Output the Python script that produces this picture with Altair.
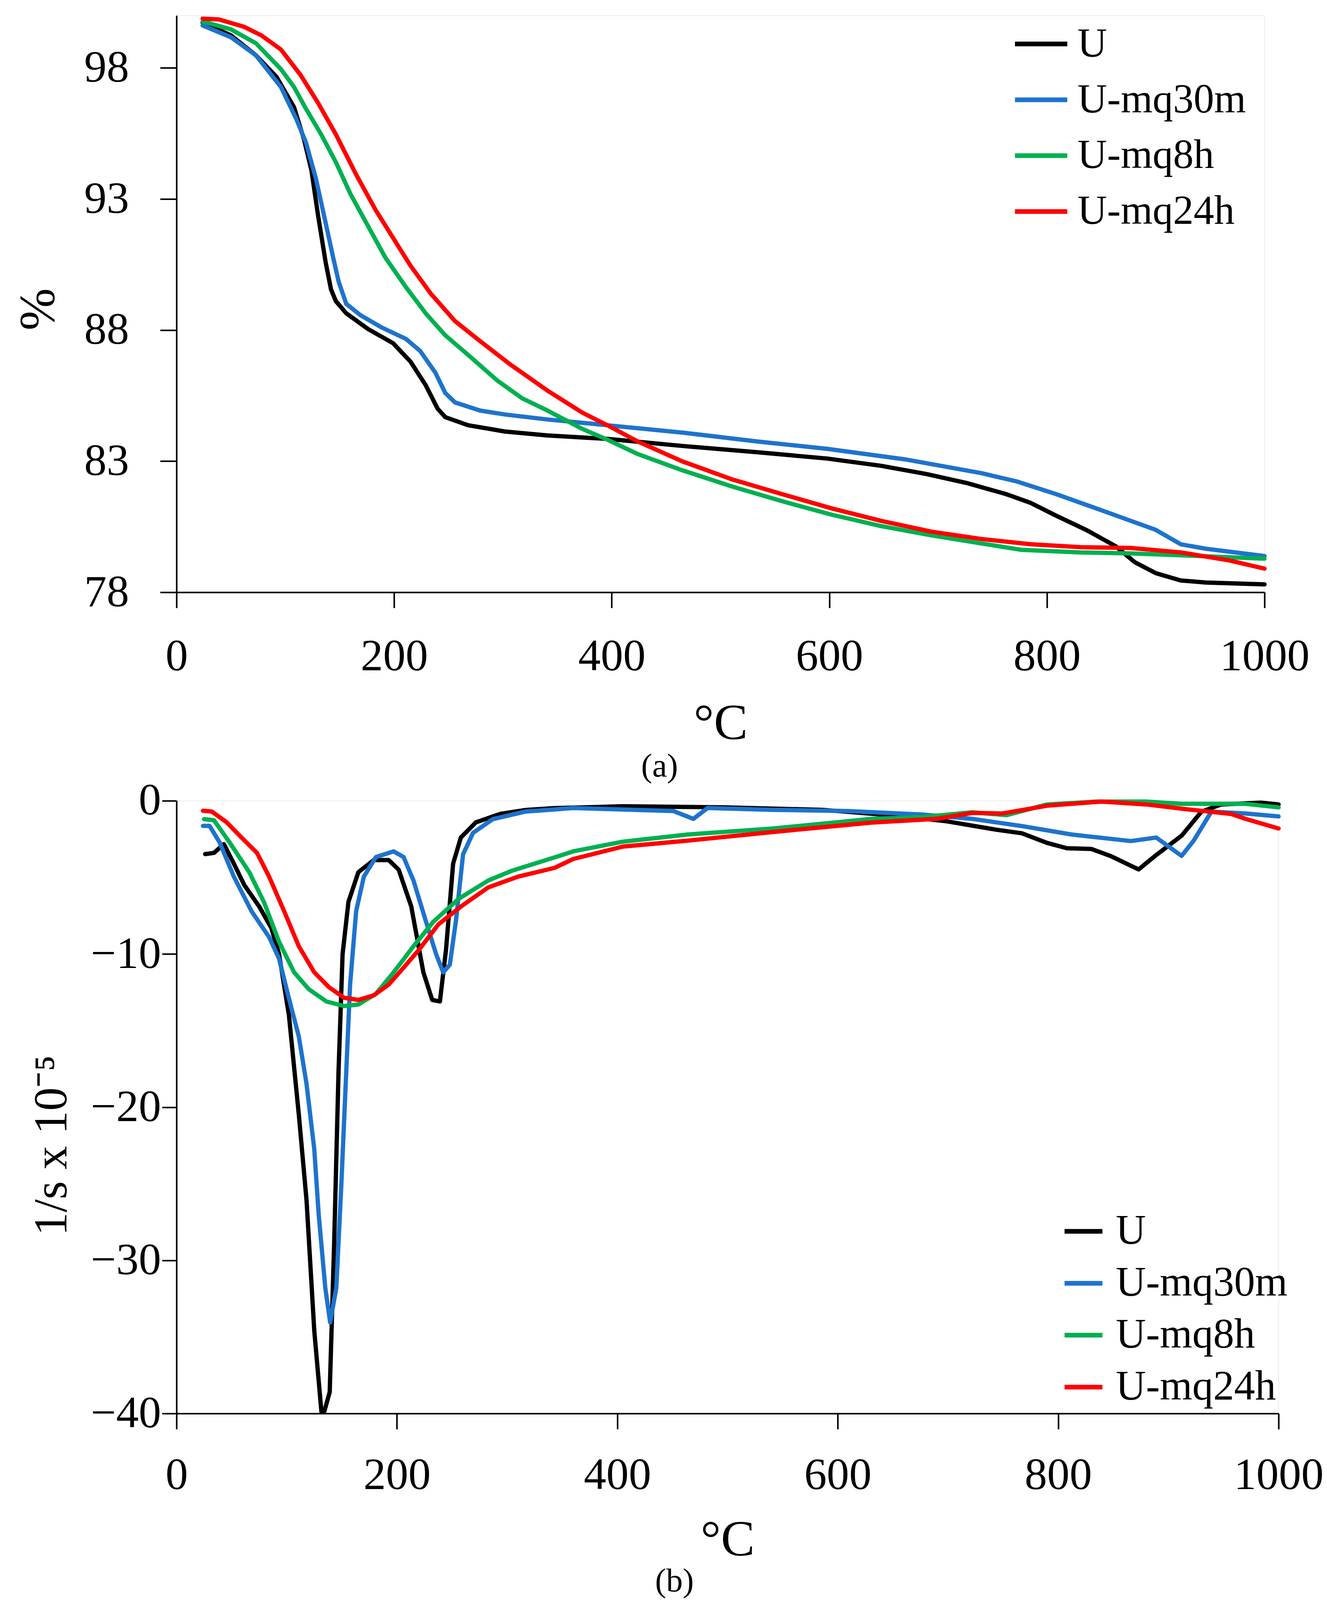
import altair as alt
import pandas as pd

FONT = "Liberation Serif"
SERIES = ["U", "U-mq30m", "U-mq8h", "U-mq24h"]
COLORS = ["#000000", "#1E73CC", "#00B050", "#FF0000"]
X_TICKS = [0, 200, 400, 600, 800, 1000]
YA_TICKS = [78, 83, 88, 93, 98]
YB_TICKS = [0, -10, -20, -30, -40]

# ---------------- panel (a): mass %, vs temperature ----------------
A_U_T = [24, 50, 73, 92, 108, 117, 124, 130, 137, 142, 146.5, 156, 176, 199, 215, 229, 240, 247, 268, 302, 341,
         396, 465, 534, 598, 648, 689, 726, 762, 785, 808, 836, 863, 881, 900, 923, 946, 1000]
A_U_V = [99.73, 99.24, 98.48, 97.65, 96.5, 95.3, 94.1, 92.4, 90.6, 89.55, 89.1, 88.64, 88.04, 87.5, 86.8, 85.9, 85.0,
         84.68, 84.37, 84.13, 83.98, 83.85, 83.58, 83.34, 83.1, 82.82, 82.51, 82.17, 81.75, 81.41, 80.93, 80.38,
         79.76, 79.14, 78.73, 78.45, 78.37, 78.3]

A_30M_T = [24, 50, 73, 96, 110, 119, 128, 137, 144, 149, 156, 169, 188, 211, 224, 238, 247, 256, 279, 302, 341,
           396, 465, 534, 598, 671, 740, 772, 808, 854, 900, 923, 946, 1000]
A_30M_V = [99.62, 99.17, 98.48, 97.27, 96.06, 95.15, 93.8, 92.1, 90.76, 89.85, 89.0, 88.57, 88.11, 87.66, 87.2,
           86.37, 85.6, 85.24, 84.93, 84.78, 84.59, 84.37, 84.09, 83.75, 83.47, 83.06, 82.54, 82.23, 81.75, 81.07,
           80.38, 79.83, 79.66, 79.38]

A_8H_T = [24, 50, 73, 96, 108, 119, 133, 146.5, 160, 176, 192, 211, 229, 247, 270, 295, 318, 341, 373, 396, 424,
          465, 511, 556, 602, 648, 694, 740, 776, 831, 877, 923, 1000]
A_8H_V = [99.77, 99.47, 98.94, 97.95, 97.27, 96.44, 95.46, 94.4, 93.18, 91.97, 90.76, 89.63, 88.64, 87.8, 86.98,
          86.07, 85.39, 84.93, 84.23, 83.82, 83.27, 82.65, 82.03, 81.48, 80.96, 80.52, 80.17, 79.86, 79.62, 79.52,
          79.48, 79.41, 79.28]

A_24H_T = [24, 39, 62, 78, 96, 114, 130, 146.5, 165, 183, 199, 215, 233.5, 256, 279, 307, 341, 373, 396, 424, 465,
           511, 556, 602, 648, 694, 740, 785, 831, 877, 923, 968, 1000]
A_24H_V = [99.88, 99.85, 99.57, 99.24, 98.7, 97.73, 96.67, 95.46, 93.94, 92.58, 91.52, 90.46, 89.4, 88.34, 87.58,
           86.68, 85.69, 84.85, 84.37, 83.75, 82.99, 82.3, 81.75, 81.2, 80.72, 80.31, 80.03, 79.83, 79.72, 79.69,
           79.52, 79.21, 78.9]

# ---------------- panel (b): rate 1/s x 10^-5 vs temperature ----------------
B_U_T = [26, 34, 43, 52, 61.5, 75, 86, 93, 102, 111, 118, 125, 131.5, 134, 139, 143, 147, 150.7, 156, 165, 179,
         192.5, 201.6, 213, 224, 232, 239, 244.5, 251, 258, 271.6, 294, 317, 343, 405, 496, 586, 654, 699, 744,
         767, 790, 808, 830, 848, 873, 889, 912, 930, 948, 984, 1000]
B_U_V = [-3.48, -3.4, -2.83, -4.1, -5.5, -6.9, -8.3, -10.0, -14.0, -20.5, -26.1, -34.6, -39.9, -39.9, -38.6, -29.0,
         -17.7, -10.0, -6.6, -4.66, -3.87, -3.87, -4.5, -6.9, -11.2, -13.0, -13.1, -9.75, -4.1, -2.4, -1.41, -0.85,
         -0.6, -0.48, -0.36, -0.43, -0.59, -0.98, -1.34, -1.89, -2.12, -2.75, -3.1, -3.14, -3.62, -4.48, -3.54,
         -2.28, -0.71, -0.24, -0.12, -0.24]

B_30M_T = [24, 30, 39, 52, 68, 84, 93, 102, 111, 118, 125, 129, 135, 139.4, 145, 149.6, 154, 157.5, 163, 170, 181,
           197, 206, 215, 226, 235.5, 242, 248, 253.6, 260, 269, 287, 317, 343, 360, 451, 469, 482, 541, 609, 677,
           722, 767, 812, 866, 889, 912, 923, 939, 970, 1000]
B_30M_V = [-1.64, -1.64, -2.7, -4.95, -7.2, -8.9, -10.3, -12.9, -15.4, -18.5, -22.75, -27.0, -31.8, -34.06, -31.8,
           -25.0, -17.7, -12.0, -7.2, -4.95, -3.67, -3.3, -3.67, -5.2, -7.8, -10.0, -11.2, -10.7, -7.8, -3.5, -2.1,
           -1.2, -0.7, -0.57, -0.47, -0.67, -1.18, -0.47, -0.59, -0.67, -0.9, -1.18, -1.65, -2.2, -2.63, -2.4,
           -3.6, -2.6, -0.71, -0.83, -1.02]

B_8H_T = [25, 34, 48, 66, 79.5, 93, 106.7, 120, 136, 152, 165, 181, 197, 215, 233, 256, 283, 305, 343, 360, 405,
          464, 541, 631, 677, 722, 753, 790, 835, 880, 912, 970, 1000]
B_8H_V = [-1.2, -1.27, -2.7, -4.66, -6.64, -9.2, -11.2, -12.3, -13.1, -13.4, -13.3, -12.6, -11.2, -9.5, -7.9, -6.4,
          -5.2, -4.55, -3.7, -3.3, -2.67, -2.2, -1.81, -1.18, -1.06, -0.75, -0.94, -0.24, -0.05, -0.05, -0.2, -0.2,
          -0.43]

B_24H_T = [24, 32, 45.6, 59, 73, 84, 97.6, 111, 125, 138, 152, 165, 179, 192.5, 206, 219.7, 237.7, 260, 283, 310,
           343, 360, 405, 464, 541, 631, 690, 722, 749, 790, 839, 880, 916, 957, 970, 1000]
B_24H_V = [-0.65, -0.7, -1.41, -2.4, -3.4, -4.95, -7.2, -9.5, -11.2, -12.15, -12.86, -13.0, -12.7, -12.0, -10.9,
           -9.75, -8.06, -6.8, -5.65, -4.95, -4.38, -3.8, -2.99, -2.6, -2.04, -1.42, -1.18, -0.79, -0.83, -0.32,
           -0.05, -0.24, -0.55, -0.86, -1.18, -1.81]


def long_frame(pairs):
    rows = []
    for name, ts, vs in pairs:
        for i, (t, v) in enumerate(zip(ts, vs)):
            rows.append({"series": name, "T": t, "V": v, "i": i})
    return pd.DataFrame(rows)


df_a = long_frame([("U", A_U_T, A_U_V), ("U-mq30m", A_30M_T, A_30M_V),
                   ("U-mq8h", A_8H_T, A_8H_V), ("U-mq24h", A_24H_T, A_24H_V)])
df_b = long_frame([("U", B_U_T, B_U_V), ("U-mq30m", B_30M_T, B_30M_V),
                   ("U-mq8h", B_8H_T, B_8H_V), ("U-mq24h", B_24H_T, B_24H_V)])

axis_style = dict(domainColor="black", domainWidth=4, tickColor="black", tickWidth=4, grid=False,
                  labelFont=FONT, labelFontSize=115, labelColor="black", labelLimit=0, labelFlush=False,
                  titleFont=FONT, titleColor="black", titleFontWeight="normal", titleLimit=0, format="d")

A_W, A_H = 2786, 1477
B_W, B_H = 2822, 1569

spacer_df = pd.DataFrame({"s": ["."]})


def panel(df, width, height, ydomain, yticks, xaxis_kw, yaxis_kw, legend_kw, caption, cap_offset, spacer_x):
    lines = alt.Chart(df).mark_line(strokeWidth=11, strokeJoin="round", strokeCap="round").encode(
        x=alt.X("T:Q", scale=alt.Scale(domain=[0, 1000], nice=False),
                axis=alt.Axis(values=X_TICKS, title="°C", tickSize=40, **xaxis_kw, **axis_style)),
        y=alt.Y("V:Q", scale=alt.Scale(domain=ydomain, nice=False, zero=False),
                axis=alt.Axis(values=yticks, **yaxis_kw, **axis_style)),
        color=alt.Color("series:N", sort=SERIES,
                        scale=alt.Scale(domain=SERIES, range=COLORS),
                        legend=alt.Legend(title=None, orient="none", symbolType="stroke",
                                          labelFont=FONT, labelColor="black", padding=0, labelLimit=0,
                                          **legend_kw)),
        order=alt.Order("i:Q"),
    )
    spacer = alt.Chart(spacer_df).mark_text(opacity=0, align="left", baseline="top", fontSize=10).encode(
        x=alt.value(spacer_x), y=alt.value(0), text="s:N")
    return alt.layer(lines, spacer).properties(
        width=width, height=height,
        title=alt.TitleParams(caption, orient="bottom", frame="bounds", anchor="middle", font=FONT,
                              fontSize=85, fontWeight="normal", color="black", offset=cap_offset),
    )


LEFT_ABS = 24
top = panel(
    df_a, A_W, A_H, [78, 100], YA_TICKS,
    xaxis_kw=dict(labelPadding=68, titleFontSize=130, titlePadding=72),
    yaxis_kw=dict(title="%", tickSize=42, labelPadding=80, titleFontSize=130, titleAngle=270,
                  titleBaseline="bottom", titleAlign="center", titleX=-287, titleY=752),
    legend_kw=dict(legendX=2141, legendY=0, symbolSize=17956, symbolStrokeWidth=12, labelFontSize=105,
                   labelOffset=20, rowPadding=17),
    caption="(a)", cap_offset=4, spacer_x=LEFT_ABS - 451,
)
bottom = panel(
    df_b, B_W, B_H, [-40, 0], YB_TICKS,
    xaxis_kw=dict(labelPadding=62, titleFontSize=130, titlePadding=60),
    yaxis_kw=dict(title="1/s x 10⁻⁵", tickSize=37, labelPadding=3, titleFontSize=120, titleAngle=270,
                  titleBaseline="bottom", titleAlign="center", titleX=-257, titleY=882),
    legend_kw=dict(legendX=2268, legendY=1048, symbolSize=9409, symbolStrokeWidth=12, labelFontSize=107,
                   labelOffset=28, rowPadding=25),
    caption="(b)", cap_offset=0, spacer_x=LEFT_ABS - 411,
)

chart = alt.vconcat(top, bottom, spacing=-14).resolve_legend(color="independent").properties(
    padding={"left": LEFT_ABS - 8, "top": 30, "right": 0, "bottom": 4},
).configure_view(stroke=None).configure(background="white")

chart.save("out.html", embed_options={"renderer": "svg", "actions": False})
